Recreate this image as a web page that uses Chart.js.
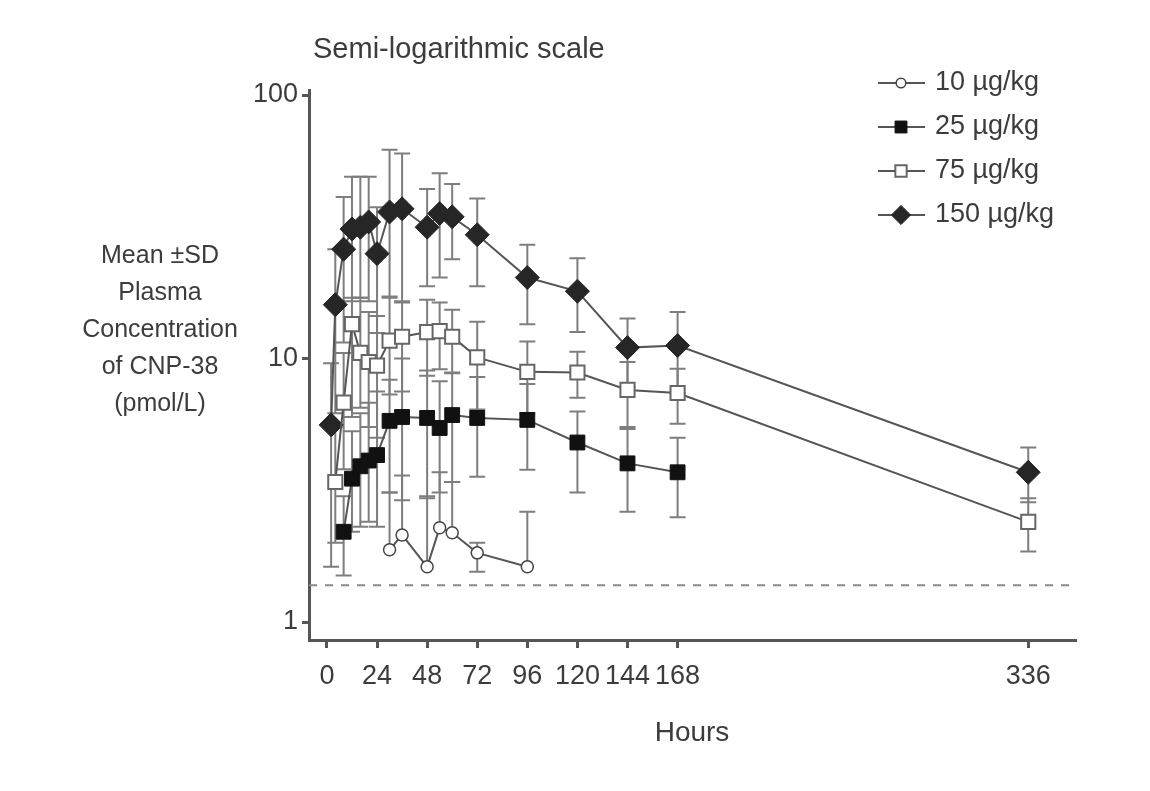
<!DOCTYPE html>
<html>
<head>
<meta charset="utf-8">
<title>CNP-38 plasma concentration</title>
<script src="https://cdn.jsdelivr.net/npm/chart.js@4.4.1/dist/chart.umd.min.js"></script>
<style>
  html, body { margin: 0; padding: 0; background: #fff; }
  #pkChart { display: block; }
</style>
</head>
<body>
<canvas id="pkChart" width="1150" height="791"></canvas>
<script>
// values (pmol/L, mean with +/- SD bounds)
var hours10 = [30, 36, 48, 54, 60, 72, 96];
var mean10 = [1.88, 2.14, 1.62, 2.28, 2.18, 1.83, 1.62];
var upper10 = [3.1, 3.6, 3.0, 3.7, 3.4, 2.0, 2.62];
var lower10 = [null, null, null, null, null, 1.55, null];

var hours25 = [8, 12, 16, 20, 24, 30, 36, 48, 54, 60, 72, 96, 120, 144, 168];
var mean25 = [2.2, 3.5, 3.9, 4.1, 4.3, 5.8, 6.0, 5.95, 5.45, 6.1, 5.95, 5.85, 4.8, 4.0, 3.7];
var upper25 = [3.0, 5.3, 6.2, 6.8, 7.5, 8.3, 10, 9.0, 8.2, 8.8, 8.5, 8.0, 6.3, 5.4, 5.0];
var lower25 = [1.5, 2.2, 2.3, 2.4, 2.3, 3.1, 2.9, 2.95, 3.1, 3.4, 3.56, 3.78, 3.1, 2.62, 2.5];

var hours75 = [4, 8, 12, 16, 20, 24, 30, 36, 48, 54, 60, 72, 96, 120, 144, 168, 336];
var mean75 = [3.4, 6.8, 13.5, 10.5, 9.7, 9.4, 11.7, 12.1, 12.6, 12.7, 12.1, 10.1, 8.9, 8.85, 7.6, 7.4, 2.4];
var upper75 = [5.5, 10.5, 17, 17, 15, 14.5, 17, 16.5, 16.7, 16.3, 15.3, 13.8, 11.6, 10.6, 9.7, 9.15, 2.95];
var lower75 = [2.0, 3.8, 6.0, 6.5, 5.5, 5.0, 7.3, 7.5, 8.6, 9.1, 8.85, 6.4, 6.2, 7.1, 5.5, 5.66, 1.85];

var hours150 = [2, 4, 8, 12, 16, 20, 24, 30, 36, 48, 54, 60, 72, 96, 120, 144, 168, 336];
var mean150 = [5.6, 16, 26, 31, 31.5, 33, 25, 36, 37, 31.5, 35.5, 34.5, 29.5, 20.3, 18, 11, 11.2, 3.7];
var upper150 = [9.6, 26, 41, 49, 49, 49, 37.5, 62, 60, 44, 50.5, 46, 40.5, 27, 24, 14.2, 15, 4.6];
var lower150 = [1.62, 6.2, 11.5, 16.5, 17, 16.5, 12.5, 17.2, 16.3, 18.8, 20.3, 23.8, 18.8, 13.5, 12.6, 7.8, 7.4, 2.85];

var doseLabels = ['10 µg/kg', '25 µg/kg', '75 µg/kg', '150 µg/kg'];
var xTicks = [0, 24, 48, 72, 96, 120, 144, 168, 336];
var yTicks = [1, 10, 100];
var lloq = 1.38;   // dashed line
var xMin = -8.6, xMax = 358.4;
var yMin = 0.8545, yMax = 104.5;

var textColor = '#3c3c3c';
var axisColor = '#555';
Chart.defaults.font.family = "'Liberation Sans', Arial, sans-serif";

function toPoints(xs, ys){
    return xs.map(function(x, i){ return {x: x, y: ys[i]}; });
}

// error bars drawn under the markers, positions from the scales
var errorBars = {
    id: 'errorBars',
    beforeDatasetsDraw: function(chart){
        var ctx = chart.ctx;
        var yScale = chart.scales.y;
        chart.data.datasets.forEach(function(ds, di){
            if(!ds.upper){ return; }
            var meta = chart.getDatasetMeta(di);
            ctx.save();
            ctx.strokeStyle = '#7e7e7e';
            ctx.lineWidth = 2;
            meta.data.forEach(function(pt, i){
                var top = yScale.getPixelForValue(ds.upper[i]);
                var hasLow = ds.lower[i] !== null;
                var bot = hasLow ? yScale.getPixelForValue(ds.lower[i]) : pt.y;
                ctx.beginPath();
                ctx.moveTo(pt.x, top);
                ctx.lineTo(pt.x, bot);
                ctx.moveTo(pt.x - 8, top);
                ctx.lineTo(pt.x + 8, top);
                if(hasLow){
                    ctx.moveTo(pt.x - 8, bot);
                    ctx.lineTo(pt.x + 8, bot);
                }
                ctx.stroke();
            });
            ctx.restore();
        });
    }
};

// title, multi-line y title and the legend
var annotations = {
    id: 'annotations',
    afterDraw: function(chart){
        var ctx = chart.ctx;
        ctx.save();
        ctx.fillStyle = textColor;
        ctx.textBaseline = 'middle';

        ctx.font = "29px 'Liberation Sans', Arial, sans-serif";
        ctx.textAlign = 'left';
        ctx.fillText('Semi-logarithmic scale', 313, 50);

        ctx.font = "25px 'Liberation Sans', Arial, sans-serif";
        ctx.textAlign = 'center';
        var yLines = ['Mean \u00b1SD', 'Plasma', 'Concentration', 'of CNP-38', '(pmol/L)'];
        yLines.forEach(function(line, i){
            ctx.fillText(line, 160, 256 + i * 37);
        });

        // legend
        ctx.font = "27px 'Liberation Sans', Arial, sans-serif";
        ctx.textAlign = 'left';
        chart.data.datasets.forEach(function(ds, i){
            if(!ds.upper){ return; }
            var y = 83 + i * 44;
            ctx.strokeStyle = ds.borderColor;
            ctx.lineWidth = 2;
            ctx.beginPath();
            ctx.moveTo(878, y);
            ctx.lineTo(925, y);
            ctx.stroke();
            ctx.fillStyle = ds.pointBackgroundColor;
            ctx.strokeStyle = ds.pointBorderColor;
            ctx.lineWidth = ds.pointBorderWidth;
            Chart.helpers.drawPoint(ctx, {
                pointStyle: ds.pointStyle,
                radius: ds.pointRadius * 0.8,
                rotation: 0,
                borderWidth: ds.pointBorderWidth
            }, 901, y);
            ctx.fillStyle = textColor;
            ctx.fillText(ds.label, 935, y);
        });
        ctx.restore();
    }
};

window.onload = function(){
    var ctx = document.getElementById('pkChart').getContext('2d');

    var config = {
        type: 'line',
        data: {
            datasets: [{
                label: doseLabels[0],
                data: toPoints(hours10, mean10),
                upper: upper10,
                lower: lower10,
                borderColor: '#555',
                borderWidth: 2,
                pointStyle: 'circle',
                pointRadius: 6,
                pointBackgroundColor: '#fff',
                pointBorderColor: '#444',
                pointBorderWidth: 1.5
            }, {
                label: doseLabels[1],
                data: toPoints(hours25, mean25),
                upper: upper25,
                lower: lower25,
                borderColor: '#555',
                borderWidth: 2,
                pointStyle: 'rect',
                pointRadius: 10.5,
                pointBackgroundColor: '#111',
                pointBorderColor: '#111',
                pointBorderWidth: 1
            }, {
                label: doseLabels[2],
                data: toPoints(hours75, mean75),
                upper: upper75,
                lower: lower75,
                borderColor: '#555',
                borderWidth: 2,
                pointStyle: 'rect',
                pointRadius: 10,
                pointBackgroundColor: '#fff',
                pointBorderColor: '#666',
                pointBorderWidth: 2
            }, {
                label: doseLabels[3],
                data: toPoints(hours150, mean150),
                upper: upper150,
                lower: lower150,
                borderColor: '#555',
                borderWidth: 2,
                pointStyle: 'rectRot',
                pointRadius: 12,
                pointBackgroundColor: '#262626',
                pointBorderColor: '#262626',
                pointBorderWidth: 1
            }, {
                label: 'LLOQ',
                data: [{x: xMin, y: lloq}, {x: xMax, y: lloq}],
                borderColor: '#8a8a8a',
                borderWidth: 2,
                borderDash: [8, 8],
                pointRadius: 0
            }]
        },
        options: {
            responsive: false,
            animation: false,
            devicePixelRatio: 1,
            layout: {
                padding: {left: 0, right: 75, top: 90, bottom: 0}
            },
            elements: {
                line: {tension: 0}
            },
            datasets: {
                line: {clip: false}
            },
            scales: {
                x: {
                    type: 'linear',
                    min: xMin,
                    max: xMax,
                    afterBuildTicks: function(axis){
                        axis.ticks = xTicks.map(function(v){ return {value: v}; });
                    },
                    afterFit: function(axis){
                        axis.height = 151;
                    },
                    grid: {
                        drawOnChartArea: false,
                        drawTicks: true,
                        tickLength: 8,
                        color: axisColor,
                        lineWidth: 3
                    },
                    border: {display: true, color: axisColor, width: 3},
                    ticks: {
                        color: textColor,
                        font: {size: 27},
                        padding: 12,
                        autoSkip: false,
                        maxRotation: 0
                    },
                    title: {
                        display: true,
                        text: 'Hours',
                        color: textColor,
                        font: {size: 28},
                        padding: {top: 0, bottom: 41}
                    }
                },
                y: {
                    type: 'logarithmic',
                    min: yMin,
                    max: yMax,
                    afterBuildTicks: function(axis){
                        axis.ticks = yTicks.map(function(v){ return {value: v}; });
                    },
                    afterFit: function(axis){
                        axis.width = 309;
                    },
                    grid: {
                        drawOnChartArea: false,
                        drawTicks: true,
                        tickLength: 7,
                        color: axisColor,
                        lineWidth: 3
                    },
                    border: {display: true, color: axisColor, width: 3},
                    ticks: {
                        color: textColor,
                        font: {size: 27},
                        padding: 4,
                        callback: function(value){ return String(value); }
                    }
                }
            },
            plugins: {
                legend: {display: false},
                title: {display: false},
                tooltip: {enabled: false}
            }
        },
        plugins: [errorBars, annotations]
    };

    var pkChart = new Chart(ctx, config);
};
</script>
</body>
</html>
